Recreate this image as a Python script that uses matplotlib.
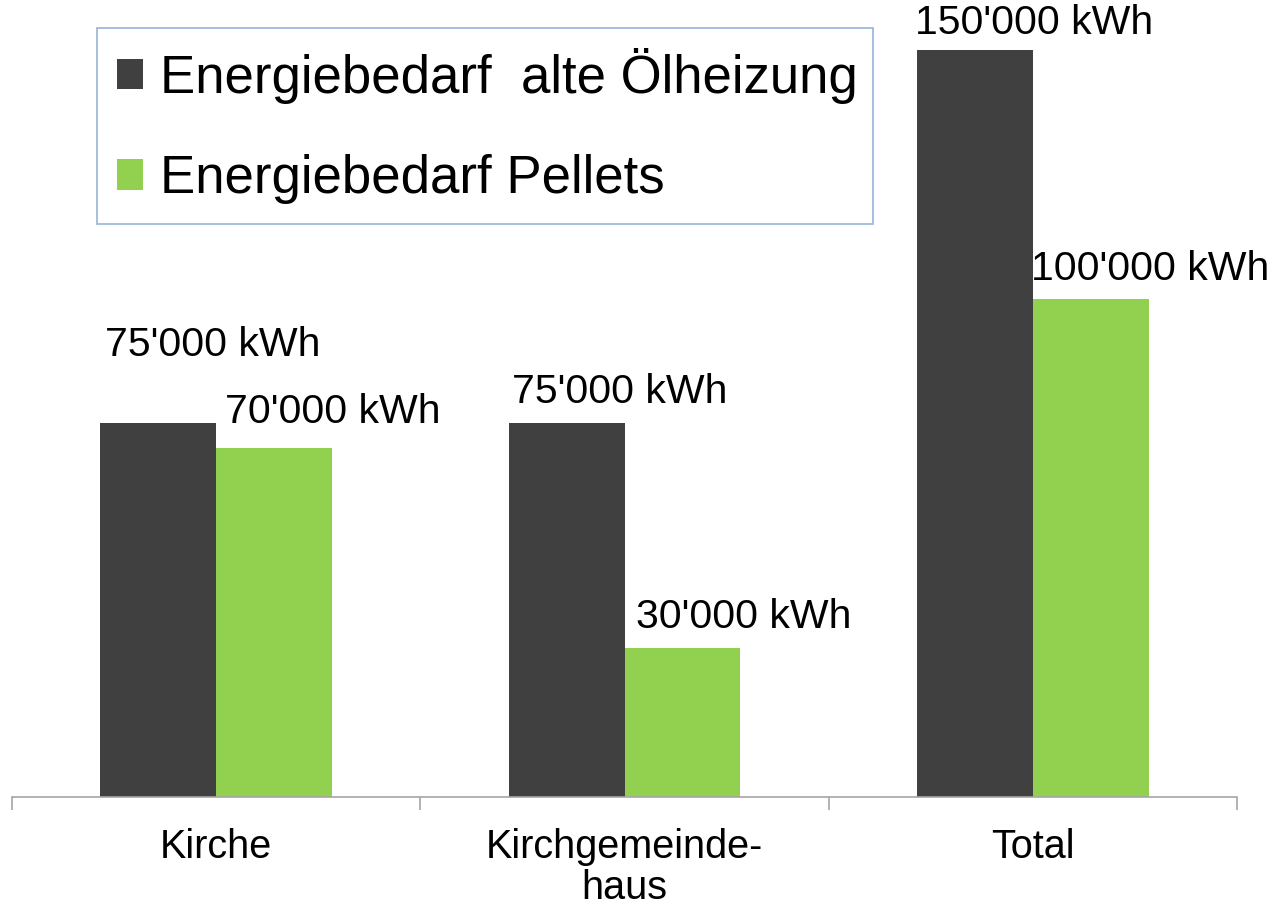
import matplotlib.pyplot as plt
import numpy as np

plt.rcParams["font.family"] = ["Liberation Sans", "DejaVu Sans"]

# ##################### DATA #####################
categories = ["Kirche", "Kirchgemeinde-\nhaus", "Total"]
series_names = ["Energiebedarf  alte Ölheizung", "Energiebedarf Pellets"]
oel = [75000, 75000, 150000]
pellets = [70000, 30000, 100000]
oel_labels = ["75'000 kWh", "75'000 kWh", "150'000 kWh"]
pellets_labels = ["70'000 kWh", "30'000 kWh", "100'000 kWh"]

dark = "#404040"
green = "#92D050"

# ##################### PLOT #####################
fig = plt.figure(figsize=(12.82, 9.08), dpi=100)
ax = fig.add_axes([12 / 1282, 1 - 797 / 908, 1225 / 1282, 797 / 908])

x = np.arange(len(categories))
w = 0.284
b1 = ax.bar(x - w / 2, oel, w, color=dark, label=series_names[0])
b2 = ax.bar(x + w / 2, pellets, w, color=green, label=series_names[1])

ax.set_xlim(-0.5, 2.5)
ax.set_ylim(0, 160000)

# value labels, left aligned on the bar, raised by a few pixels
oel_dy = [78, 31, 27]
pel_dy = [36, 31, 30]
oel_dx = [5, 3, -2]
pel_dx = [9, 12, -2]
for rect, txt, dx, dy in zip(b1, oel_labels, oel_dx, oel_dy):
    ax.annotate(txt, (rect.get_x(), rect.get_height()), xytext=(dx, dy),
                textcoords="offset pixels", ha="left", va="center", fontsize=29.5)
for rect, txt, dx, dy in zip(b2, pellets_labels, pel_dx, pel_dy):
    ax.annotate(txt, (rect.get_x(), rect.get_height()), xytext=(dx, dy),
                textcoords="offset pixels", ha="left", va="center", fontsize=29.5)

# axes styling
for s in ["top", "right", "left"]:
    ax.spines[s].set_visible(False)
ax.spines["bottom"].set_color("#a6a6a6")
ax.spines["bottom"].set_linewidth(1.2)
ax.set_yticks([])
ax.set_xticks([-0.5, 0.5, 1.5, 2.5])
ax.set_xticklabels([])
ax.tick_params(axis="x", which="major", length=9.5, color="#a6a6a6", width=1.2)
ax.set_xticks(x, minor=True)
ax.set_xticklabels(categories, minor=True, fontsize=28.5, linespacing=1.12)
ax.tick_params(axis="x", which="minor", length=0, pad=22)

leg = fig.legend(loc="upper left", bbox_to_anchor=(97 / 1282, 1 - 28 / 908, 776 / 1282, 0),
                 mode="expand", fontsize=38, frameon=True, fancybox=False,
                 borderaxespad=0, handlelength=0.5, handleheight=0.5, handletextpad=0.32,
                 labelspacing=0.95, borderpad=0.38)
leg.get_frame().set_edgecolor("#7f9fcf")
leg.get_frame().set_linewidth(1.2)

fig.savefig("out.png", dpi=100)
